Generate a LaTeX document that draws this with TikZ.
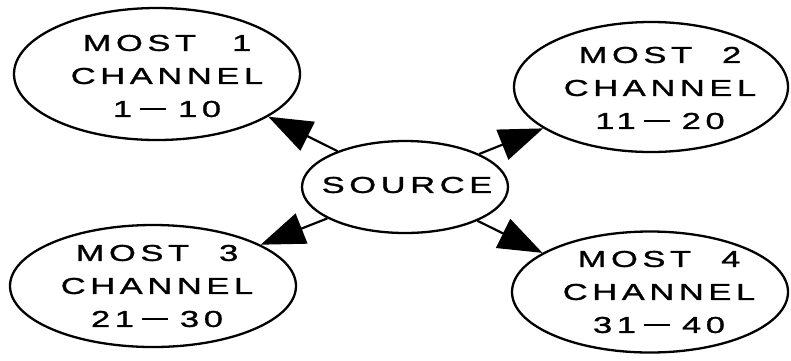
\documentclass[tikz,border=0pt]{standalone}
\usepackage{fontspec}
\usetikzlibrary{shapes.geometric,arrows.meta}
\newfontfamily\plotfont[FakeStretch=1.5,LetterSpace=20,FakeBold=1.2]{Liberation Sans}
% channel range with a long plotter-style dash
\newcommand{\rng}[2]{#1\hspace{8pt}\rule[7pt]{26pt}{1.9pt}\hspace{12pt}#2}
\begin{document}
\begin{tikzpicture}[x=1pt,y=-1pt,
  oval/.style={ellipse,draw,line width=2.3pt,inner sep=0pt},
  lbl/.style={align=center,font=\plotfont\fontsize{23}{33}\selectfont,inner sep=0pt},
  feed/.style={line width=2.2pt,-{Triangle[length=44pt,width=32pt]}}]
\useasboundingbox (0,0) rectangle (791,360);
% channel groups and the source
\node[oval,minimum width=286pt,minimum height=132pt] (m1) at (157,74) {};
\node[oval,minimum width=274pt,minimum height=130pt] (m2) at (651,87) {};
\node[oval,minimum width=286pt,minimum height=122pt] (m3) at (153,286) {};
\node[oval,minimum width=276pt,minimum height=121pt] (m4) at (650,292) {};
\node[oval,minimum width=206pt,minimum height=92pt] (src) at (405,187) {};
% labels
\node[lbl] (m1t) at (167,76) {MOST\hspace{36pt}1\\CHANNEL\\\rng{1}{10}};
\node[lbl] (m2t) at (660,88) {MOST\hspace{30pt}2\\CHANNEL\\\rng{11}{20}};
\node[lbl] (m3t) at (157,286) {MOST\hspace{30pt}3\\CHANNEL\\\rng{21}{30}};
\node[lbl] (m4t) at (659,292) {MOST\hspace{30pt}4\\CHANNEL\\\rng{31}{40}};
\node[lbl,font=\plotfont\fontsize{23}{28}\selectfont] (srct) at (407,185) {SOURCE};
% feeds from the source
\draw[feed] (src.152) -- (m1.-21);
\draw[feed] (src.24) -- (m2.-159);
\draw[feed] (src.-158) -- (m3.21);
\draw[feed] (src.-25) -- (m4.160);
\end{tikzpicture}
\end{document}
